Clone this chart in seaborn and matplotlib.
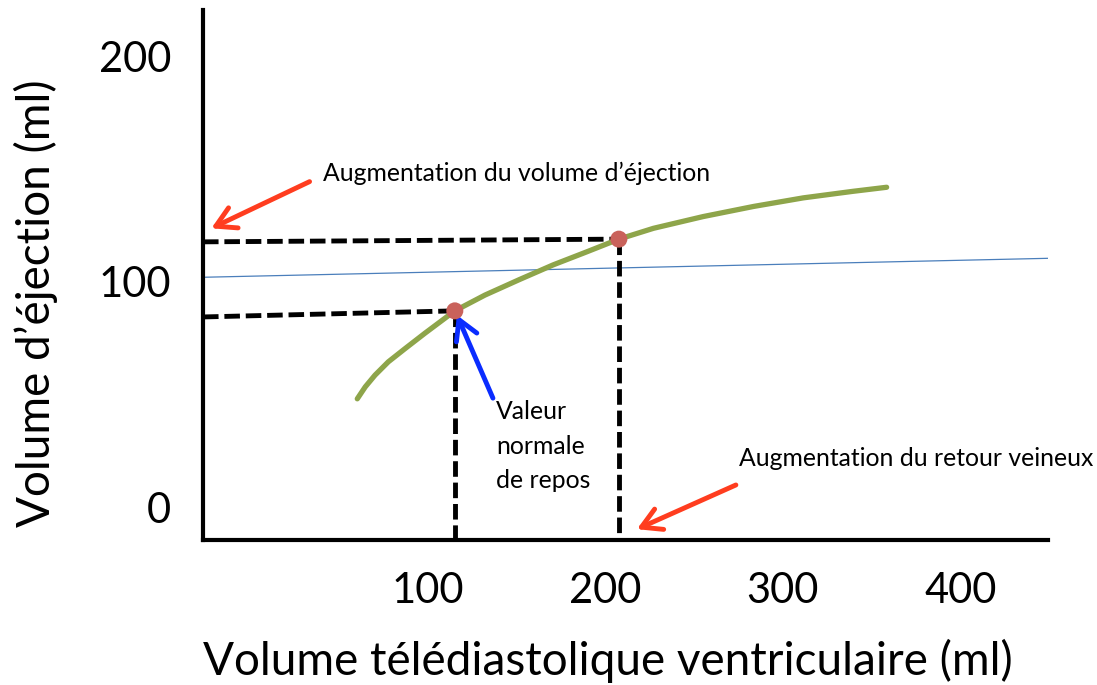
import matplotlib
matplotlib.use("Agg")
import matplotlib.pyplot as plt
import seaborn as sns
import pandas as pd

# courbe de Frank-Starling
vol_td = [60, 64.5, 70, 77.5, 87, 98, 115, 132, 151.5, 170.5, 189.5, 207.5,
          227, 255, 283.5, 311.5, 339.5, 358.5]
vol_ej = [48, 53.3, 58.5, 64.4, 70.3, 77, 87, 94, 100.9, 107.4, 113.2, 118.8,
          123.6, 128.8, 133.3, 137.1, 140, 141.8]

# points repos / retour veineux augmenté
pts_x = [115, 207.5]
pts_y = [87, 118.8]

# lignes pointillées horizontales (départ sur l'axe y, fin au point)
h_bas_x = [-27, 115]
h_bas_y = [84.3, 87]
h_haut_x = [-27, 207.5]
h_haut_y = [117.6, 118.8]

# droite bleue fine
bleu_x = [-26.5, 449.5]
bleu_y = [101.9, 110.3]

x_ticks = [100, 200, 300, 400]
y_ticks = [0, 100, 200]

df = pd.DataFrame({"vtd": vol_td, "ve": vol_ej})
df_pts = pd.DataFrame({"vtd": pts_x, "ve": pts_y})

sns.set_theme(style="white")
plt.rcParams["font.family"] = ["Lato", "DejaVu Sans"]

fig = plt.figure(figsize=(10.97, 6.85), dpi=100)
ax = fig.add_axes([203 / 1097, 145 / 685, 845 / 1097, 530 / 685])
xmin, xmax = -27, 449.5
ymin, ymax = -14.6, 220.4

# droite bleue
sns.lineplot(x=bleu_x, y=bleu_y, ax=ax, color="#4A7EBB", lw=0.9, sort=False, estimator=None)

# pointillés noirs
dash = dict(color="black", lw=3.5, dashes=(3.2, 1.2), solid_capstyle="butt", clip_on=False)
ax.plot(h_bas_x, h_bas_y, **dash)
ax.plot(h_haut_x, h_haut_y, **dash)
for xv, yv in zip(pts_x, pts_y):
    ax.plot([xv, xv], [yv, ymin], **dash)

# courbe
sns.lineplot(data=df, x="vtd", y="ve", ax=ax, color="#8EA54A", lw=3.8, sort=False, estimator=None)
sns.scatterplot(data=df_pts, x="vtd", y="ve", ax=ax, color="#C9625B", s=150, edgecolor="none", zorder=5)

# flèches
def fleche(tete, queue, couleur):
    ax.annotate("", xy=tete, xytext=queue,
                arrowprops=dict(arrowstyle="->,head_length=0.7,head_width=0.4",
                                color=couleur, lw=3.5, shrinkA=0, shrinkB=0,
                                mutation_scale=20), annotation_clip=False)

fleche((-22.3, 123.6), (33.1, 144.3), "#FF3D1F")
fleche((217.7, -9.8), (273.5, 9.8), "#FF3D1F")
fleche((116.2, 85.1), (136.5, 48.3), "#0A2CFF")

txt = dict(fontsize=17.8, color="black", va="baseline", ha="left")
ax.text(40.5, 144.5, "Augmentation du volume d’éjection", **txt)
ax.text(275, 18.2, "Augmentation du retour veineux", **txt)
ax.text(138.2, 8.4, "Valeur\nnormale\nde repos", linespacing=1.6, **txt)

ax.set_xlim(xmin, xmax)
ax.set_ylim(ymin, ymax)
ax.set_xticks(x_ticks)
ax.set_xticklabels([str(v) for v in x_ticks])
ax.set_yticks(y_ticks)
ax.set_yticklabels([str(v) for v in y_ticks])
ax.tick_params(axis="both", length=0, labelsize=30, colors="black")
ax.tick_params(axis="x", pad=23)
ax.tick_params(axis="y", pad=23)

for s in ["top", "right"]:
    ax.spines[s].set_visible(False)
for s in ["left", "bottom"]:
    ax.spines[s].set_color("black")
    ax.spines[s].set_linewidth(3)

ax.set_xlabel("Volume télédiastolique ventriculaire (ml)", fontsize=33, color="black")
ax.set_ylabel("Volume d’éjection (ml)", fontsize=33, color="black")
ax.xaxis.label.set_va("baseline")
ax.xaxis.set_label_coords((608 - 203) / 845, (540 - 675) / 530)
ax.yaxis.label.set_va("baseline")
ax.yaxis.set_label_coords((50 - 203) / 845, (540 - 303) / 530)

ax.grid(False)
fig.savefig("out.png", dpi=100)
